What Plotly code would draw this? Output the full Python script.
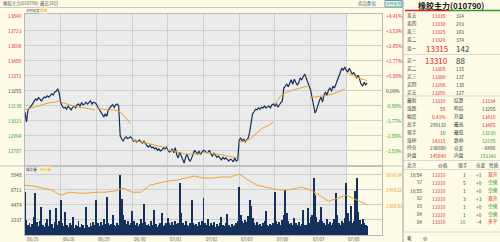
import plotly.graph_objects as go

W, H = 500, 242
FONT = "Noto Sans CJK SC"
RED = "#e0261e"
GREEN = "#1e9a28"
DARK = "#3a3a3a"
ORANGE = "#f0a030"
NAVY = "#16305c"
CREAM = "#fdfae6"
GRAYBG = "#ebebeb"
GRID = "#cfcfcf"

# ---------------- data ----------------
dates = ["06/25", "06/26", "06/29", "06/30", "07/01", "07/02", "07/03", "07/06", "07/07", "07/08"]
PER_DAY = 24

price_days = [
    [13085, 13005, 13100, 13120, 13130, 13145, 13170, 13185, 13175, 13195, 13185, 13170, 13185, 13200, 13195, 13210, 13200, 13215, 13225, 13215, 13240, 13245, 13265, 13230],
    [13155, 13130, 13115, 13120, 13105, 13130, 13115, 13100, 13120, 13130, 13115, 13140, 13145, 13130, 13155, 13140, 13145, 13160, 13145, 13155, 13170, 13145, 13160, 13155],
    [13145, 13120, 13100, 13075, 13060, 13045, 13070, 13050, 13100, 13120, 13130, 13140, 13120, 13140, 13145, 13130, 12895, 12875, 12855, 12880, 12890, 12875, 12880, 12890],
    [12875, 12855, 12865, 12850, 12855, 12865, 12850, 12840, 12855, 12835, 12820, 12810, 12825, 12805, 12810, 12795, 12805, 12785, 12795, 12780, 12785, 12805, 12795, 12810],
    [12785, 12770, 12780, 12795, 12765, 12805, 12750, 12725, 12770, 12740, 12710, 12685, 12730, 12755, 12715, 12700, 12725, 12765, 12785, 12770, 12755, 12780, 12750, 12770],
    [12785, 12780, 12765, 12770, 12785, 12755, 12740, 12765, 12750, 12730, 12740, 12725, 12710, 12730, 12715, 12725, 12710, 12700, 12715, 12710, 12695, 12725, 12700, 12710],
    [12865, 12880, 12855, 12875, 12850, 12865, 12880, 12925, 13020, 13070, 13085, 13105, 13100, 13115, 13105, 13120, 13115, 13130, 13115, 13120, 13130, 13115, 13140, 13145],
    [13130, 13145, 13120, 13140, 13155, 13170, 13270, 13285, 13300, 13280, 13315, 13335, 13300, 13340, 13315, 13295, 13310, 13350, 13335, 13365, 13380, 13350, 13315, 13285],
    [13255, 13195, 13130, 13075, 13100, 13145, 13175, 13200, 13160, 13215, 13240, 13210, 13255, 13270, 13245, 13285, 13270, 13300, 13335, 13365, 13395, 13425, 13410, 13435],
    [13410, 13395, 13425, 13405, 13380, 13390, 13365, 13350, 13370, 13335, 13300, 13285, 13315, 13295, 13310],
]

avg_idx = [0, 4, 8, 12, 16, 20, 23]
avg_idx_last = [0, 4, 8, 12, 14]
avg_days = [
    [13100, 13115, 13130, 13145, 13155, 13160, 13170],
    [13160, 13145, 13130, 13120, 13115, 13105, 13100],
    [13115, 13105, 13100, 13100, 13085, 13035, 12990],
    [12865, 12855, 12840, 12835, 12820, 12810, 12805],
    [12785, 12780, 12765, 12755, 12755, 12755, 12755],
    [12770, 12765, 12755, 12750, 12740, 12730, 12725],
    [12850, 12855, 12880, 12920, 12960, 12980, 13005],
    [13145, 13210, 13240, 13255, 13270, 13280, 13285],
    [13195, 13200, 13210, 13215, 13230, 13245, 13265],
    [13395, 13370, 13350, 13335, 13325],
]

vol_days = [
    [6300, 2200, 1500, 1800, 1200, 1600, 2600, 6100, 1900, 1300, 2100, 4100, 1500, 1200, 1700, 2400, 1300, 3700, 1600, 1100, 1900, 3900, 1400, 2000],
    [5100, 1800, 1300, 3400, 1500, 1200, 1800, 1400, 2600, 1100, 1500, 1300, 2000, 1200, 1600, 1400, 1100, 4100, 1500, 1200, 1700, 1300, 1900, 1400],
    [5100, 1700, 1300, 1900, 1500, 2300, 1600, 5600, 1800, 1400, 1600, 2900, 1500, 1300, 1700, 1500, 8800, 5300, 3000, 2200, 1600, 2000, 1500, 1800],
    [3500, 2000, 1500, 1800, 1300, 1600, 2300, 1700, 4600, 1900, 1400, 1600, 1300, 2000, 1500, 3700, 1600, 1200, 1400, 1800, 3200, 1300, 1500, 1700],
    [2500, 1700, 1400, 1900, 1500, 2100, 1600, 1800, 7600, 3300, 1700, 1400, 2000, 1500, 1300, 1700, 5100, 1800, 1400, 1600, 1300, 1900, 1500, 2100],
    [5500, 1800, 1500, 2400, 1300, 1700, 1400, 1900, 1200, 1600, 1300, 1800, 2600, 1500, 1300, 1700, 3100, 1400, 1200, 1600, 1300, 1500, 1700, 2000],
    [7000, 3000, 2100, 1700, 2200, 1900, 2800, 5100, 4300, 2500, 1800, 1500, 1900, 1400, 1600, 1300, 1700, 2000, 3500, 1500, 1300, 1600, 1400, 1800],
    [6300, 2100, 1600, 1900, 1400, 2200, 3000, 6600, 3300, 2000, 1600, 1800, 1400, 2500, 1700, 1500, 1900, 1300, 1600, 3600, 1500, 1400, 3900, 1700],
    [2600, 3000, 8300, 5800, 2600, 1900, 2200, 4100, 2000, 1700, 1500, 2300, 1600, 1900, 1400, 1800, 2300, 6200, 3000, 1700, 1500, 2100, 1800, 2500],
    [7600, 3200, 2100, 4300, 1800, 2000, 6500, 8300, 3400, 2200, 1600, 2400, 1800, 1500, 1300],
]

oi_step = 6
oi_values = [253560, 252700, 250980, 249260, 244950, 247540, 246680, 246680, 247540, 247540,
             248400, 250980, 247540, 247540, 253560, 255290, 257010, 257870, 259590, 261310,
             259590, 259590, 260450, 260450, 263030, 257870, 253560, 251840, 250120, 249260,
             250120, 251840, 249260, 244950, 239790, 242370, 244950, 241510, 238070, 236880]

price_ticks = [13840, 13723, 13606, 13489, 13372, 13255, 13138, 13021, 12904, 12787]
pct_labels = ["+4.41%", "+3.53%", "+2.65%", "+1.77%", "+0.88%", "0.00%", "-0.88%", "-1.77%", "-2.65%", "-3.53%"]
prev_settle = 13255
vol_ticks = [8948, 6711, 4474, 2237]
oi_ticks = [263034, 249832, 236630]

ask_labels = ["卖五", "卖四", "卖三", "卖二", "卖一"]
ask_prices = [13335, 13330, 13325, 13320, 13315]
ask_vols = [314, 203, 163, 374, 142]
bid_labels = ["买一", "买二", "买三", "买四", "买五"]
bid_prices = [13310, 13305, 13300, 13296, 13290]
bid_vols = [88, 115, 137, 138, 127]

stat_l_labels = ["最新", "涨跌", "幅度", "总手", "现手", "涨停", "持仓", "外盘"]
stat_l_values = ["13310", "55", "0.41%", "299132", "10", "14315", "236880", "145840"]
stat_l_colors = [RED, RED, RED, DARK, DARK, RED, DARK, RED]
stat_r_labels = ["结算", "昨结", "开盘", "最高", "最低", "跌停", "仓差", "内盘"]
stat_r_values = ["13334", "13255", "13410", "13465", "13230", "12195", "-6486", "153342"]
stat_r_colors = [RED, DARK, RED, RED, GREEN, GREEN, DARK, GREEN]

tick_header = ["北京", "价格", "现手", "仓差", "性质"]
tick_times = ["10:54", "57", "10:55", "02", "03", "04", "04"]
tick_prices = [13310, 13310, 13310, 13310, 13310, 13310, 13310]
tick_qty = ["1", "5", "1", "3", "1", "1", "10"]
tick_oi = ["+1", "+0", "+0", "+3", "+0", "+0", "-4"]
tick_kind = ["双开", "空换", "空换", "双开", "空换", "空换", "多平"]

# ---------------- build series positions ----------------
px_x, px_y = [], []
for d, vals in enumerate(price_days):
    for i, v in enumerate(vals):
        px_x.append(d * PER_DAY + i)
        px_y.append(v)

av_x, av_y = [], []
for d, vals in enumerate(avg_days):
    idx = avg_idx if len(vals) == len(avg_idx) else avg_idx_last
    for i, v in zip(idx, vals):
        av_x.append(d * PER_DAY + i)
        av_y.append(v)
    av_x.append(None)
    av_y.append(None)

vx, vy = [], []
for d, vals in enumerate(vol_days):
    for i, v in enumerate(vals):
        vx.append(d * PER_DAY + i)
        vy.append(v)

last_idx = px_x[-1]
oi_x = [min(k * oi_step, last_idx) for k in range(len(oi_values))]

# ---------------- layout geometry ----------------
def pxx(x):
    return x / W

def pxy(y):
    return 1 - y / H

X0, X1 = 25, 382
MAIN_T, MAIN_B = 14, 165
VOL_T, VOL_B = 167, 235
per_px_price = 117 / 15
main_range = [13840 - (MAIN_B - 15) * per_px_price, 13840 + (15 - MAIN_T) * per_px_price]
per_px_vol = 2237 / 15.25
vol_range = [0, 8948 + (174 - VOL_T) * per_px_vol]
per_px_oi = (263034 - 236630) / 31
oi_range = [263034 - (VOL_B - 174) * per_px_oi, 263034 + (174 - VOL_T) * per_px_oi]
NDAYS = len(dates)
x_range = [0, NDAYS * PER_DAY]

fig = go.Figure()
fig.add_trace(go.Scatter(x=px_x, y=px_y, mode="lines", line=dict(color=NAVY, width=1.2),
                         xaxis="x", yaxis="y", hoverinfo="skip"))
fig.add_trace(go.Scatter(x=av_x, y=av_y, mode="lines", line=dict(color=ORANGE, width=1),
                         xaxis="x", yaxis="y", hoverinfo="skip", connectgaps=False))
fig.add_trace(go.Bar(x=vx, y=vy, marker=dict(color=NAVY, line=dict(width=0)), width=0.6,
                     xaxis="x2", yaxis="y2", hoverinfo="skip"))
fig.add_trace(go.Scatter(x=oi_x, y=oi_values, mode="lines", line=dict(color=ORANGE, width=1),
                         xaxis="x2", yaxis="y3", hoverinfo="skip"))

axis_common = dict(showticklabels=False, ticks="", zeroline=False, showline=True,
                   linecolor="#b8b8b8", linewidth=1, mirror=True, gridcolor=GRID, gridwidth=1)
fig.update_layout(
    width=W, height=H, margin=dict(l=0, r=0, t=0, b=0),
    paper_bgcolor=CREAM, plot_bgcolor=CREAM, showlegend=False, bargap=0,
    font=dict(family=FONT, size=5, color=DARK),
    xaxis=dict(domain=[pxx(X0), pxx(X1)], range=x_range, tick0=0, dtick=PER_DAY, showgrid=True,
               anchor="y", **axis_common),
    yaxis=dict(domain=[pxy(MAIN_B), pxy(MAIN_T)], range=main_range, tickvals=price_ticks,
               showgrid=True, anchor="x", **axis_common),
    xaxis2=dict(domain=[pxx(X0), pxx(X1)], range=x_range, tick0=0, dtick=PER_DAY, showgrid=True,
                anchor="y2", **axis_common),
    yaxis2=dict(domain=[pxy(VOL_B), pxy(VOL_T)], range=vol_range, tickvals=vol_ticks,
                showgrid=True, anchor="x2", **axis_common),
    yaxis3=dict(overlaying="y2", range=oi_range, showgrid=False, showticklabels=False,
                zeroline=False, anchor="x2"),
)

shapes = []
shapes.append(dict(type="rect", xref="x", yref="y domain", x0=0, x1=(NDAYS - 1) * PER_DAY, y0=0, y1=1,
                   fillcolor=GRAYBG, line=dict(width=0), layer="below"))
shapes.append(dict(type="rect", xref="x2", yref="y2 domain", x0=0, x1=(NDAYS - 1) * PER_DAY, y0=0, y1=1,
                   fillcolor=GRAYBG, line=dict(width=0), layer="below"))
shapes.append(dict(type="line", xref="paper", yref="paper", x0=0, x1=pxx(403), y0=pxy(7.5), y1=pxy(7.5),
                   line=dict(color="#c8c8c8", width=1)))
shapes.append(dict(type="line", xref="paper", yref="paper", x0=pxx(403), x1=pxx(403), y0=0, y1=1,
                   line=dict(color="#a0a0a0", width=1)))
shapes.append(dict(type="line", xref="paper", yref="paper", x0=pxx(0), x1=pxx(403), y0=pxy(166), y1=pxy(166),
                   line=dict(color="#c8c8c8", width=1)))
shapes.append(dict(type="line", xref="paper", yref="paper", x0=pxx(405), x1=pxx(450), y0=pxy(10.5), y1=pxy(10.5),
                   line=dict(color="#e02020", width=1.5)))
shapes.append(dict(type="line", xref="paper", yref="paper", x0=pxx(450), x1=pxx(500), y0=pxy(10.5), y1=pxy(10.5),
                   line=dict(color="#20a030", width=1.5)))
for yy in [54.5, 96, 160.5, 169.5, 232]:
    shapes.append(dict(type="line", xref="paper", yref="paper", x0=pxx(404), x1=pxx(500), y0=pxy(yy), y1=pxy(yy),
                       line=dict(color="#d8d8d8", width=1)))
shapes.append(dict(type="rect", xref="paper", yref="paper", x0=pxx(385), x1=pxx(402), y0=pxy(7), y1=pxy(0.5),
                   line=dict(color="#5aa0a0", width=1), fillcolor="#e8f4f0"))

anns = []

def txt(x, y, s, color=DARK, size=5, anchor="left", bold=False, bg=None):
    a = dict(x=pxx(x), y=pxy(y), xref="paper", yref="paper", text=("<b>%s</b>" % s if bold else s),
             showarrow=False, xanchor=anchor, yanchor="middle",
             font=dict(family=FONT, size=size, color=color), borderpad=0)
    if bg:
        a["bgcolor"] = bg
    anns.append(a)

# header
txt(2, 3.6, "橡胶主力(010790)  最近10日", "#606060", 4.4)
txt(357, 3.6, "商品叠加", "#4a6f8a", 4.4)
txt(393.5, 3.8, "分时走势", "#2a7a7a", 3.8, "center")
txt(25, 11, "分时走势", DARK, 3.4)
txt(39, 11, "均线", ORANGE, 3.4, bg="#fff3c8")
txt(25, 169.5, "成交量", DARK, 3.6)
txt(39, 169.5, "持仓量", ORANGE, 3.6, bg="#fff3c8")

for v, p in zip(price_ticks, pct_labels):
    col = RED if v > prev_settle else (DARK if v == prev_settle else GREEN)
    anns.append(dict(x=pxx(23.5), y=v, xref="paper", yref="y", text=str(v), showarrow=False,
                     xanchor="right", yanchor="middle", font=dict(family=FONT, size=4.8, color=col)))
    anns.append(dict(x=pxx(384), y=v, xref="paper", yref="y", text=p, showarrow=False,
                     xanchor="left", yanchor="middle", font=dict(family=FONT, size=4.8, color=col)))
for v in vol_ticks:
    anns.append(dict(x=pxx(23.5), y=v, xref="paper", yref="y2", text=str(v), showarrow=False,
                     xanchor="right", yanchor="middle", font=dict(family=FONT, size=4.8, color=DARK)))
for v in oi_ticks:
    anns.append(dict(x=pxx(384), y=v, xref="paper", yref="y3", text=str(v), showarrow=False,
                     xanchor="left", yanchor="middle", font=dict(family=FONT, size=4.8, color=ORANGE)))
for d, s in enumerate(dates):
    anns.append(dict(x=d * PER_DAY, y=pxy(238.8), xref="x2", yref="paper", text=s, showarrow=False,
                     xanchor="left", yanchor="middle", font=dict(family=FONT, size=4.4, color="#505050")))

# right panel
txt(451, 5, "橡胶主力(010790)", "#202020", 8, "center", bold=True)
ask_y = [15.5, 23.5, 31.5, 39.5, 48.5]
for lab, p, v, yy in zip(ask_labels, ask_prices, ask_vols, ask_y):
    big = lab == "卖一"
    txt(406, yy, lab, DARK, 4.7)
    txt(449 if big else 447, yy, str(p), RED, 8 if big else 4.8, "right")
    txt(455, yy, str(v), DARK, 8 if big else 4.8)
bid_y = [60, 68.5, 76.5, 84.5, 92.5]
for lab, p, v, yy in zip(bid_labels, bid_prices, bid_vols, bid_y):
    big = lab == "买一"
    txt(406, yy, lab, DARK, 4.7)
    txt(449 if big else 447, yy, str(p), RED, 8 if big else 4.8, "right")
    txt(455, yy, str(v), DARK, 8 if big else 4.8)
for k in range(len(stat_l_labels)):
    yy = 100.5 + k * 7.9
    txt(406, yy, stat_l_labels[k], DARK, 4.7)
    txt(447, yy, stat_l_values[k], stat_l_colors[k], 4.8, "right")
    txt(453, yy, stat_r_labels[k], DARK, 4.7)
    txt(497, yy, stat_r_values[k], stat_r_colors[k], 4.8, "right")
hx = [406, 437, 457, 475, 488]
for h, xx in zip(tick_header, hx):
    txt(xx, 165, h, DARK, 4.7)
for k in range(len(tick_times)):
    yy = 174.5 + k * 7.9
    t = tick_times[k]
    txt(423, yy, t, DARK, 4.8 if ":" in t else 4.4, "right")
    txt(447, yy, str(tick_prices[k]), RED, 4.8, "right")
    qcol = GREEN if tick_qty[k] == "10" else DARK
    txt(467, yy, tick_qty[k], qcol, 4.8, "right")
    txt(483, yy, tick_oi[k], DARK, 4.8, "right")
    kcol = RED if tick_kind[k] in ("多平", "双开") else GREEN
    txt(487, yy, tick_kind[k], kcol, 4.7)
txt(406, 237.5, "笔", DARK, 4.6)
txt(422, 237.5, "价", DARK, 4.6)

fig.update_layout(shapes=shapes, annotations=anns)
fig.write_html("out.html")
